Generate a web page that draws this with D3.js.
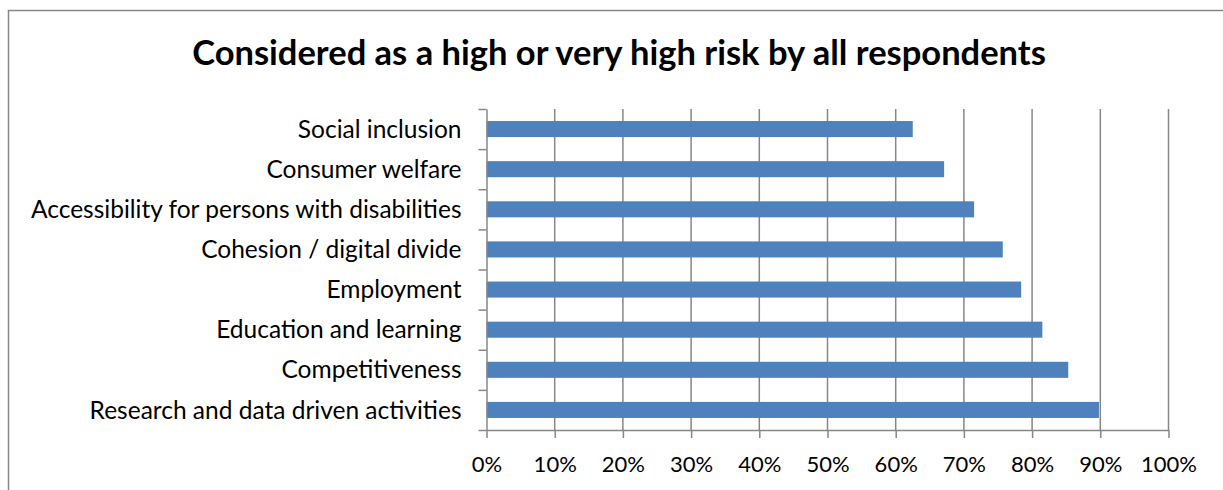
<!DOCTYPE html>
<html>
<head>
<meta charset="utf-8">
<script src="https://cdn.jsdelivr.net/npm/d3@7"></script>
<style>
  body { margin: 0; background: #fff; }
  svg { display: block; }
  text { font-family: Lato, "Noto Sans", sans-serif; fill: #000; }
</style>
</head>
<body>
<svg id="chart" width="1223" height="490"></svg>
<script>
const categories = [
  "Social inclusion",
  "Consumer welfare",
  "Accessibility for persons with disabilities",
  "Cohesion / digital divide",
  "Employment",
  "Education and learning",
  "Competitiveness",
  "Research and data driven activities"
];
const values = [0.625, 0.671, 0.715, 0.757, 0.784, 0.815, 0.853, 0.898];
const xTicks = [0, 0.1, 0.2, 0.3, 0.4, 0.5, 0.6, 0.7, 0.8, 0.9, 1.0];
const title = "Considered as a high or very high risk by all respondents";

const svg = d3.select("#chart");
const margin = { top: 109, left: 486.5, right: 54.5, bottom: 60 };
const width = +svg.attr("width");
const innerWidth = width - margin.left - margin.right;
const innerHeight = 430 - margin.top;
const axisColor = "#878787";

// outer chart border (runs off the right and bottom edges)
svg.append("rect")
  .attr("x", 8.5).attr("y", 10.5)
  .attr("width", 1300).attr("height", 600)
  .attr("fill", "none")
  .attr("stroke", axisColor)
  .attr("stroke-width", 1.5);

svg.append("text")
  .attr("x", 619)
  .attr("y", 65)
  .attr("text-anchor", "middle")
  .style("font-size", "34.5px")
  .style("font-weight", "bold")
  .text(title);

const g = svg.append("g")
  .attr("transform", `translate(${margin.left},${margin.top})`);

const x = d3.scaleLinear().domain([0, 1]).range([0, innerWidth]);
const y = d3.scaleBand().domain(categories).range([0, innerHeight]).paddingInner(0.6).paddingOuter(0.3);
const yEdge = d3.scaleLinear().domain([0, categories.length]).range([0, innerHeight]);

// vertical gridlines
g.append("g")
  .selectAll("line")
  .data(xTicks.slice(1))
  .join("line")
  .attr("x1", d => x(d)).attr("x2", d => x(d))
  .attr("y1", 0).attr("y2", innerHeight)
  .attr("stroke", axisColor)
  .attr("stroke-width", 1.5);

// bars
g.append("g")
  .selectAll("rect")
  .data(categories)
  .join("rect")
  .attr("x", 0)
  .attr("y", d => y(d))
  .attr("width", (d, i) => x(values[i]))
  .attr("height", y.bandwidth())
  .attr("fill", "#4F81BD");

// x axis
const xAxis = d3.axisBottom(x)
  .tickValues(xTicks)
  .tickFormat(d3.format(".0%"))
  .tickSizeInner(8)
  .tickSizeOuter(0)
  .tickPadding(18);

const xg = g.append("g")
  .attr("transform", `translate(0,${innerHeight})`)
  .call(xAxis);
xg.selectAll("line, path").attr("stroke", axisColor).attr("stroke-width", 1.5);
xg.selectAll("text").style("font-size", "22px").style("font-family", "Lato, 'Noto Sans', sans-serif");

// y axis: line with ticks on category boundaries
const yAxis = d3.axisLeft(yEdge)
  .tickValues(d3.range(categories.length + 1))
  .tickFormat("")
  .tickSizeInner(8)
  .tickSizeOuter(0);
const yg = g.append("g").call(yAxis);
yg.selectAll("line, path").attr("stroke", axisColor).attr("stroke-width", 1.5);

// category labels
g.append("g")
  .selectAll("text")
  .data(categories)
  .join("text")
  .attr("x", -25)
  .attr("y", d => y(d) + y.bandwidth() / 2)
  .attr("dy", "0.35em")
  .attr("text-anchor", "end")
  .style("font-size", "24.5px")
  .text(d => d);
</script>
</body>
</html>
